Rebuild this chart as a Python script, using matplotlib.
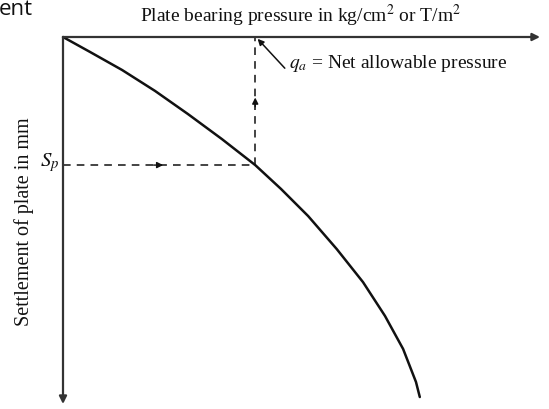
import matplotlib
matplotlib.use("Agg")
import matplotlib.pyplot as plt

plt.rcParams["mathtext.fontset"] = "stix"
plt.rcParams["font.family"] = ["Liberation Serif", "DejaVu Serif"]

# Load-settlement curve of the plate (pressure vs settlement, arbitrary units)
pressure = [0.0, 0.57, 1.24, 1.93, 2.62, 3.33, 4.03, 4.57, 5.14, 5.74,
            6.29, 6.75, 7.13, 7.40, 7.48]
settlement = [0.0, 0.41, 0.90, 1.47, 2.10, 2.78, 3.49, 4.14, 4.88, 5.78,
              6.68, 7.60, 8.50, 9.40, 9.81]

# Settlement S_p and the corresponding net allowable pressure q_a
q_a = 4.03
s_p = 3.49

x_max = 10.0
y_max = 10.0

W, H = 549, 410
fig = plt.figure(figsize=(W / 100, H / 100), dpi=100)
# Axes: origin at (63, 38) px, extends to (540, 405) px
left, right, top, bottom = 63, 540, 38, 405
ax = fig.add_axes([left / W, 1 - bottom / H, (right - left) / W, (bottom - top) / H])
ax.set_xlim(0, x_max)
ax.set_ylim(y_max, 0)
ax.axis("off")

axis_color = "#333333"
arrow_kw = dict(arrowstyle="-|>", color=axis_color, lw=1.6, mutation_scale=11,
                shrinkA=0, shrinkB=0)
ax.annotate("", xy=(x_max, 0), xytext=(0, 0), arrowprops=arrow_kw, annotation_clip=False)
ax.annotate("", xy=(0, y_max), xytext=(0, 0), arrowprops=arrow_kw, annotation_clip=False)

# Curve
ax.plot(pressure, settlement, color="#111111", lw=1.8, solid_capstyle="round",
        solid_joinstyle="round", clip_on=False)

# Dashed construction lines
ax.plot([0, q_a], [s_p, s_p], color="#111111", lw=1.1, ls=(0, (5, 4)))
ax.plot([q_a, q_a], [s_p, 0], color="#111111", lw=1.1, ls=(0, (5, 4)))
small_arrow = dict(arrowstyle="-|>", color="#111111", lw=1.0, mutation_scale=9,
                   shrinkA=0, shrinkB=0)
ax.annotate("", xy=(2.10, s_p), xytext=(1.90, s_p), arrowprops=small_arrow)
ax.annotate("", xy=(q_a, 1.65), xytext=(q_a, 1.90), arrowprops=small_arrow)

# q_a label with pointer
ax.annotate("", xy=(q_a + 0.05, 0.05), xytext=(q_a + 0.62, 0.85),
            arrowprops=dict(arrowstyle="-|>", color="#111111", lw=1.1,
                            mutation_scale=9, shrinkA=0, shrinkB=0))
fig.text(289 / W, 1 - 64 / H, r"$q_a$ = Net allowable pressure",
         fontsize=14, ha="left", va="center", color="#111111")

# Axis titles
fig.text(301 / W, 1 - 16 / H, r"Plate bearing pressure in kg/cm$^2$ or T/m$^2$",
         fontsize=14, ha="center", va="center", color="#111111")
fig.text(24 / W, 1 - 222 / H, "Settlement of plate in mm", rotation=90,
         fontsize=14.5, ha="center", va="center", color="#111111")
fig.text(50 / W, 1 - 163 / H, r"$S_p$", fontsize=15, ha="center", va="center",
         color="#111111")

# Fragment of a heading
fig.text(-1 / W, 1 - 15 / H, "ent", fontsize=16, family=["Open Sans", "DejaVu Sans"],
         ha="left", va="baseline", color="#111111")

fig.savefig("out.png", dpi=100, facecolor="white")
